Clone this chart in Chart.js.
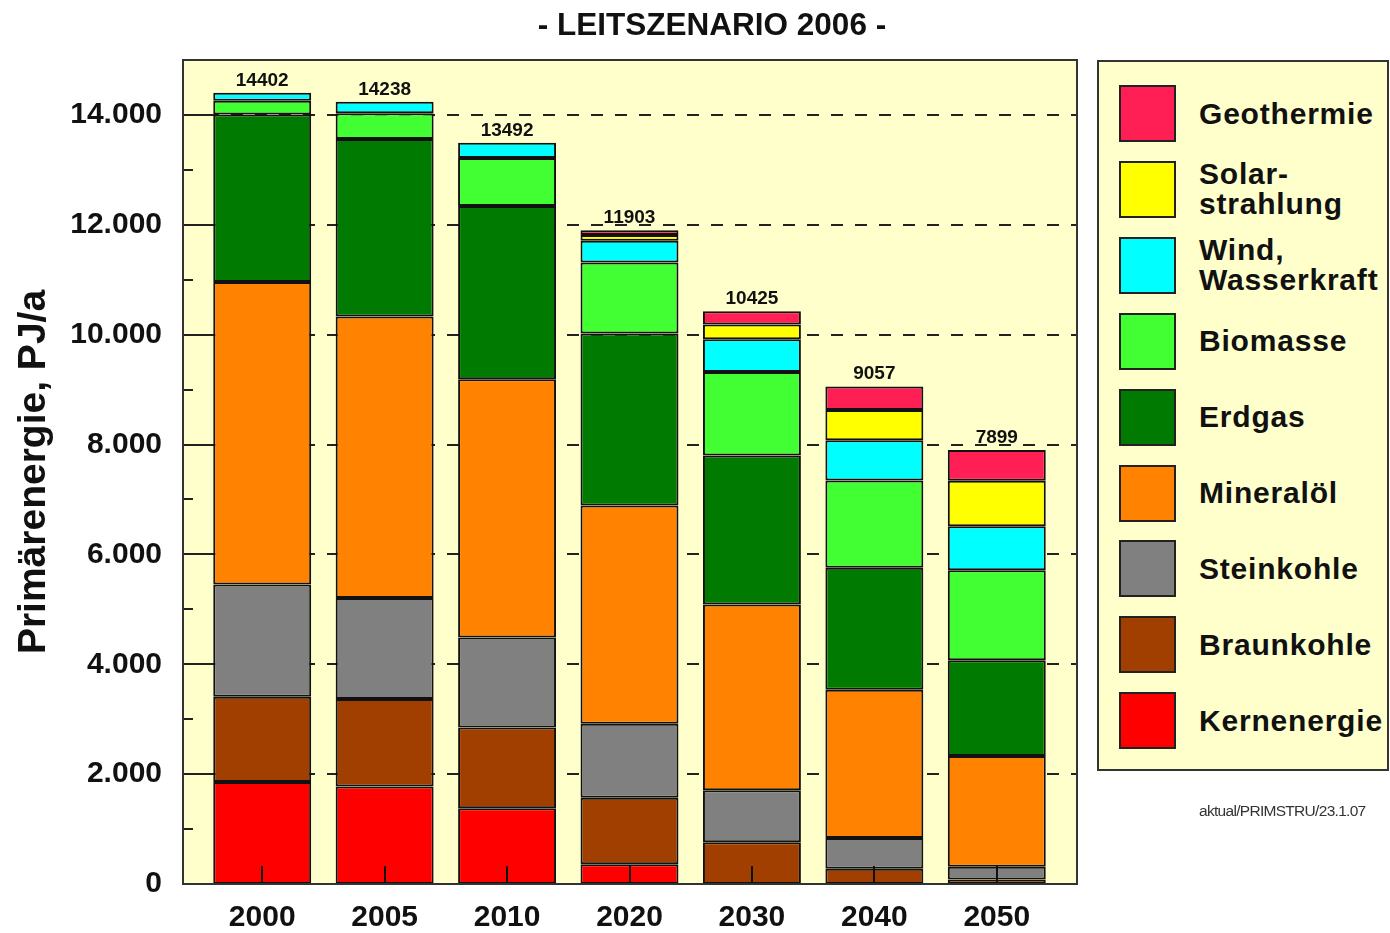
<!DOCTYPE html>
<html>
<head>
<meta charset="utf-8">
<script src="https://cdn.jsdelivr.net/npm/chart.js@4.4.1/dist/chart.umd.min.js"></script>
<style>
  body { margin: 0; background: #fff; font-family: "Liberation Sans", Arial, sans-serif; }
  #wrap { position: relative; width: 1390px; height: 933px; overflow: hidden; }
  #chart { position: absolute; left: 0; top: 0; }
  #title { position: absolute; left: 412px; width: 600px; top: 6px; text-align: center;
           font-weight: bold; font-size: 31.5px; color: #111; }
  #legend { position: absolute; left: 1097px; top: 60px; width: 288px; height: 707px;
            border: 2px solid #333; background: #FFFFCC; }
  .item { position: absolute; left: 20px; width: 268px; height: 57px; }
  .sw { position: absolute; left: 0; top: 0; width: 53px; height: 53px; border: 2px solid #222; }
  .lb { position: absolute; left: 80px; top: 50%; transform: translateY(-50%);
        font-weight: bold; font-size: 30px; line-height: 30px; white-space: pre;
        color: #111; letter-spacing: 0.8px; }
  #note { position: absolute; left: 1199px; top: 802px; font-size: 15.5px; color: #333;
          letter-spacing: -0.7px; }
</style>
</head>
<body>
<div id="wrap">
  <canvas id="chart" width="1390" height="933"></canvas>
  <div id="title">- LEITSZENARIO 2006 -</div>
  <div id="legend"></div>
  <div id="note">aktual/PRIMSTRU/23.1.07</div>
</div>
<script>
// Primärenergie in PJ/a, von unten nach oben gestapelt
var years    = ['2000', '2005', '2010', '2020', '2030', '2040', '2050'];
var kern     = [1859, 1774, 1380,  359,    0,    0,    0];
var braun    = [1550, 1593, 1470, 1209,  760,  279,   80];
var stein    = [2042, 1841, 1635, 1349,  948,  560,  236];
var mineral  = [5506, 5123, 4703, 3974, 3378, 2698, 2012];
var erdgas   = [3053, 3232, 3154, 3130, 2716, 2218, 1743];
var biomasse = [ 246,  469,  875, 1294, 1519, 1592, 1640];
var wind     = [ 146,  206,  275,  394,  596,  729,  803];
var solar    = [   0,    0,    0,  104,  268,  552,  827];
var geo      = [   0,    0,    0,   90,  240,  429,  558];
var yTicks   = [0, 2000, 4000, 6000, 8000, 10000, 12000, 14000];

var names  = ['Kernenergie', 'Braunkohle', 'Steinkohle', 'Mineralöl', 'Erdgas',
              'Biomasse', 'Wind,\nWasserkraft', 'Solar-\nstrahlung', 'Geothermie'];
var colors = ['#FF0000', '#A03F00', '#808080', '#FF8200', '#007A00',
              '#42FF33', '#00FFFF', '#FFFF00', '#FF1F55'];
var series = [kern, braun, stein, mineral, erdgas, biomasse, wind, solar, geo];

var datasets = series.map(function (d, i) {
  return {
    label: names[i].replace('\n', ' '),
    data: d,
    backgroundColor: colors[i],
    borderColor: '#111',
    borderWidth: 2,
    borderSkipped: false
  };
});

// legend (multi-line labels), top item = last dataset
var legend = document.getElementById('legend');
for (var i = names.length - 1, k = 0; i >= 0; i--, k++) {
  var it = document.createElement('div');
  it.className = 'item';
  it.style.top = (23 + k * 75.9) + 'px';
  it.innerHTML = '<div class="sw" style="background:' + colors[i] + '"></div>' +
                 '<div class="lb">' + names[i] + '</div>';
  legend.appendChild(it);
}

var frame = {
  id: 'frame',
  beforeDatasetsDraw: function (chart) {
    var ctx = chart.ctx, a = chart.chartArea, y = chart.scales.y;
    var L = a.left - 18, R = a.right + 19;
    ctx.save();
    ctx.fillStyle = '#FFFFCC';
    ctx.fillRect(L, a.top, R - L, a.bottom - a.top);
    ctx.strokeStyle = '#222';
    ctx.lineWidth = 2;
    ctx.setLineDash([12, 12]);
    yTicks.forEach(function (v) {
      if (v === 0) return;
      var py = Math.round(y.getPixelForValue(v));
      ctx.beginPath(); ctx.moveTo(L, py); ctx.lineTo(R, py); ctx.stroke();
    });
    ctx.setLineDash([]);
    for (var v = 1000; v < 15000; v += 1000) {
      var py = Math.round(y.getPixelForValue(v));
      var len = (v % 2000 === 0) ? 30 : 10;
      ctx.beginPath(); ctx.moveTo(L, py); ctx.lineTo(L + len, py); ctx.stroke();
    }
    ctx.restore();
  },
  afterDatasetsDraw: function (chart) {
    var ctx = chart.ctx, a = chart.chartArea, x = chart.scales.x, y = chart.scales.y;
    var L = a.left - 18, R = a.right + 19;
    ctx.save();
    ctx.strokeStyle = '#111';
    ctx.lineWidth = 2;
    years.forEach(function (yr, i) {
      var px = Math.round(x.getPixelForValue(i));
      ctx.beginPath(); ctx.moveTo(px, a.bottom); ctx.lineTo(px, a.bottom - 18); ctx.stroke();
    });
    ctx.strokeStyle = '#333';
    ctx.strokeRect(L, a.top, R - L, a.bottom - a.top);
    // Summen über den Säulen
    ctx.fillStyle = '#111';
    ctx.font = 'bold 19px "Liberation Sans", Arial, sans-serif';
    ctx.textAlign = 'center';
    ctx.textBaseline = 'alphabetic';
    years.forEach(function (yr, i) {
      var sum = series.reduce(function (s, d) { return s + d[i]; }, 0);
      ctx.fillText(String(sum), x.getPixelForValue(i), y.getPixelForValue(sum) - 7);
    });
    ctx.restore();
  }
};

new Chart(document.getElementById('chart'), {
  type: 'bar',
  data: { labels: years, datasets: datasets },
  options: {
    responsive: false,
    animation: false,
    layout: { padding: { left: 0, top: 60, right: 332, bottom: 0 } },
    datasets: { bar: { barPercentage: 0.8, categoryPercentage: 1.0 } },
    plugins: { legend: { display: false }, tooltip: { enabled: false } },
    scales: {
      x: {
        stacked: true,
        grid: { display: false, drawTicks: false },
        border: { display: false },
        ticks: { color: '#111', padding: 16,
                 font: { family: '"Liberation Sans", Arial, sans-serif', size: 30, weight: 'bold' } },
        afterFit: function (s) { s.height = 49; }
      },
      y: {
        stacked: true,
        min: 0, max: 15000,
        grid: { display: false, drawTicks: false },
        border: { display: false },
        afterBuildTicks: function (s) {
          s.ticks = yTicks.map(function (v) { return { value: v }; });
        },
        ticks: {
          color: '#111', padding: 39,
          font: { family: '"Liberation Sans", Arial, sans-serif', size: 30, weight: 'bold' },
          callback: function (v) { return v === 0 ? '0' : (v / 1000) + '.000'; }
        },
        title: {
          display: true, text: 'Primärenergie, PJ/a', color: '#111',
          padding: { top: 11, bottom: 0 },
          font: { family: '"Liberation Sans", Arial, sans-serif', size: 39, weight: 'bold' }
        },
        afterFit: function (s) { s.width = 201; s.paddingTop = 0; s.paddingBottom = 0; }
      }
    }
  },
  plugins: [frame]
});
</script>
</body>
</html>
